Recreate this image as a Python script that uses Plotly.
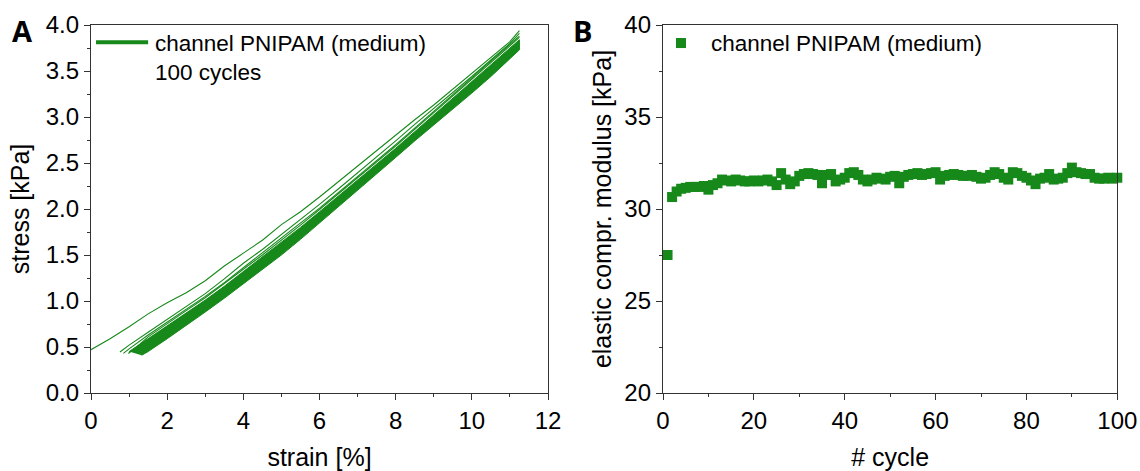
import plotly.graph_objects as go

GREEN = "#16891a"
AXC = "#333333"
TICKF = dict(family="Liberation Sans, Arial, sans-serif", size=24, color="black")
TITLEF = dict(family="Liberation Sans, Arial, sans-serif", size=25, color="black")
LEGF = dict(family="Liberation Sans, Arial, sans-serif", size=22.5, color="black")

# ---------------- Panel A data (stress-strain, 100 cycles) ----------------
cycle1_strain = [0, 0.5, 1.0, 1.5, 2.0, 2.5, 3.0, 3.3, 3.5, 4.0, 4.5, 5.0, 5.5, 6.0, 6.5, 7.0,
                 7.5, 8.0, 8.5, 9.0, 9.5, 10.0, 10.5, 11.0, 11.25]
cycle1_stress = [0.47, 0.59, 0.72, 0.86, 0.98, 1.09, 1.22, 1.32, 1.38, 1.52, 1.66, 1.83, 1.97, 2.13,
                 2.30, 2.47, 2.63, 2.80, 2.97, 3.13, 3.30, 3.47, 3.64, 3.82, 3.94]

cycle2_strain = [0.76, 1.0, 1.5, 2.0, 2.5, 3.0, 3.5, 4.0, 4.5, 5.0, 5.5, 6.0, 6.5, 7.0, 7.5,
                 8.0, 8.5, 9.0, 9.5, 10.0, 10.5, 11.0, 11.25]
cycle2_stress = [0.445, 0.52, 0.66, 0.80, 0.94, 1.08, 1.24, 1.41, 1.56, 1.72, 1.88, 2.05, 2.22,
                 2.39, 2.56, 2.74, 2.92, 3.09, 3.27, 3.44, 3.62, 3.80, 3.91]

cycle3_strain = [0.85, 1.0, 1.5, 2.0, 2.5, 3.0, 3.5, 4.0, 4.5, 5.0, 5.5, 6.0, 6.5, 7.0, 7.5,
                 8.0, 8.5, 9.0, 9.5, 10.0, 10.5, 11.0, 11.25]
cycle3_stress = [0.43, 0.48, 0.63, 0.77, 0.91, 1.05, 1.20, 1.36, 1.52, 1.68, 1.84, 2.01, 2.18,
                 2.35, 2.52, 2.70, 2.88, 3.06, 3.24, 3.42, 3.60, 3.78, 3.88]

cycle4_strain = [0.98, 1.2, 1.5, 2.0, 2.5, 3.0, 3.5, 4.0, 4.5, 5.0, 5.5, 6.0, 6.5, 7.0, 7.5,
                 8.0, 8.5, 9.0, 9.5, 10.0, 10.5, 11.0, 11.25]
cycle4_stress = [0.43, 0.50, 0.61, 0.755, 0.895, 1.035, 1.185, 1.345, 1.50, 1.66, 1.825, 1.995,
                 2.165, 2.335, 2.505, 2.685, 2.865, 3.045, 3.225, 3.405, 3.585, 3.765, 3.865]

# dense band of the remaining cycles: upper and lower envelopes
band_upper_strain = [1.0, 1.5, 2.0, 2.5, 3.0, 3.5, 4.0, 4.5, 5.0, 5.5, 6.0, 6.5, 7.0, 7.5,
                     8.0, 8.5, 9.0, 9.5, 10.0, 10.5, 11.0, 11.25]
band_upper_stress = [0.45, 0.59, 0.73, 0.87, 1.01, 1.16, 1.32, 1.47, 1.63, 1.80, 1.97, 2.14,
                     2.31, 2.48, 2.66, 2.84, 3.02, 3.20, 3.38, 3.56, 3.74, 3.84]
band_lower_strain = [1.33, 1.5, 2.0, 2.5, 3.0, 3.5, 4.0, 4.5, 5.0, 5.5, 6.0, 6.5, 7.0, 7.5,
                     8.0, 8.5, 9.0, 9.5, 10.0, 10.5, 11.0, 11.25]
band_lower_stress = [0.41, 0.45, 0.59, 0.73, 0.88, 1.03, 1.18, 1.34, 1.50, 1.67, 1.85, 2.02,
                     2.20, 2.38, 2.56, 2.74, 2.92, 3.09, 3.26, 3.44, 3.63, 3.73]

# ---------------- Panel B data (modulus per cycle) ----------------
cycles = list(range(1, 101))
modulus = [27.5, 30.65, 30.95, 31.1, 31.15, 31.2, 31.2, 31.2, 31.25, 31.05,
           31.3, 31.4, 31.6, 31.55, 31.5, 31.6, 31.55, 31.5, 31.5, 31.55,
           31.5, 31.55, 31.6, 31.5, 31.3, 31.95, 31.6, 31.35, 31.5, 31.8,
           31.9, 31.95, 31.9, 31.85, 31.4, 31.85, 31.9, 31.5, 31.6, 31.7,
           31.95, 32.0, 31.85, 31.6, 31.5, 31.6, 31.7, 31.65, 31.6, 31.75,
           31.8, 31.4, 31.75, 31.85, 31.9, 31.95, 31.85, 31.9, 31.95, 32.0,
           31.6, 31.8, 31.85, 31.9, 31.85, 31.8, 31.8, 31.85, 31.75, 31.65,
           31.7, 31.85, 32.0, 31.9, 31.7, 31.6, 32.0, 31.95, 31.8, 31.7,
           31.55, 31.35, 31.65, 31.7, 31.9, 31.6, 31.65, 31.7, 31.95, 32.25,
           32.0, 31.95, 31.9, 31.9, 31.7, 31.65, 31.65, 31.7, 31.65, 31.7]

legend_label = "channel PNIPAM (medium)"

fig = go.Figure()

# band polygon
fig.add_trace(go.Scatter(
    x=band_upper_strain + band_lower_strain[::-1],
    y=band_upper_stress + band_lower_stress[::-1],
    fill="toself", fillcolor=GREEN, mode="lines",
    line=dict(color=GREEN, width=1), xaxis="x", yaxis="y", showlegend=False,
    hoverinfo="skip"))
for sx, sy in [(cycle4_strain, cycle4_stress), (cycle3_strain, cycle3_stress),
               (cycle2_strain, cycle2_stress), (cycle1_strain, cycle1_stress)]:
    fig.add_trace(go.Scatter(x=sx, y=sy, mode="lines", line=dict(color=GREEN, width=1.1),
                             xaxis="x", yaxis="y", showlegend=False))

fig.add_trace(go.Scatter(x=cycles, y=modulus, mode="markers",
                         marker=dict(symbol="square", size=10, color=GREEN, line=dict(width=0)),
                         xaxis="x2", yaxis="y2", showlegend=False, cliponaxis=False))

W, H = 1140, 471
axis_common = dict(showline=True, linecolor=AXC, linewidth=1.3, mirror=True,
                   ticks="outside", ticklen=6, tickwidth=1.3, tickcolor=AXC,
                   showgrid=False, zeroline=False, tickfont=TICKF, automargin=False,
                   minor=dict(ticks="outside", ticklen=3, tickwidth=1.3, tickcolor=AXC, showgrid=False))

fig.update_layout(
    width=W, height=H, margin=dict(l=0, r=0, t=25, b=78),
    plot_bgcolor="white", paper_bgcolor="white", showlegend=False,
    xaxis=dict(axis_common, domain=[91 / W, 548 / W], range=[0, 12], dtick=2,
               minor=dict(axis_common["minor"], dtick=1),
               title=dict(text="strain [%]", font=TITLEF, standoff=18), anchor="y"),
    yaxis=dict(axis_common, domain=[0, 1], range=[0, 4], dtick=0.5, tickformat=".1f",
               minor=dict(axis_common["minor"], dtick=0.25),
               title=dict(text="stress [kPa]", font=TITLEF, standoff=8), anchor="x"),
    xaxis2=dict(axis_common, domain=[663 / W, 1117.3 / W], range=[0, 100], dtick=20,
                minor=dict(axis_common["minor"], dtick=10),
                title=dict(text="# cycle", font=TITLEF, standoff=18), anchor="y2"),
    yaxis2=dict(axis_common, domain=[0, 1], range=[20, 40], dtick=5,
                minor=dict(axis_common["minor"], dtick=2.5),
                title=dict(text="elastic compr. modulus [kPa]", font=TITLEF, standoff=5), anchor="x2"),
)

# legends (drawn manually)
fig.add_shape(type="line", xref="x domain", yref="y domain", x0=0.011, x1=0.125, y0=0.953, y1=0.953,
              line=dict(color=GREEN, width=4))
fig.add_annotation(xref="x domain", yref="y domain", x=0.136, y=0.950, text=legend_label,
                   showarrow=False, xanchor="left", yanchor="middle", font=LEGF)
fig.add_annotation(xref="x domain", yref="y domain", x=0.136, y=0.870, text="100 cycles",
                   showarrow=False, xanchor="left", yanchor="middle", font=LEGF)
fig.add_shape(type="rect", xref="x2 domain", yref="y2 domain", x0=0.0286, x1=0.0506, y0=0.9374, y1=0.9646,
              line=dict(width=0), fillcolor=GREEN)
fig.add_annotation(xref="x2 domain", yref="y2 domain", x=0.101, y=0.950, text=legend_label,
                   showarrow=False, xanchor="left", yanchor="middle", font=LEGF)

# panel letters
PF = dict(family="Open Sans, Liberation Sans, sans-serif", size=29, color="black", weight="bold")
fig.add_annotation(xref="paper", yref="paper", x=22 / W, y=(393 - 30) / 368, text="<b>A</b>",
                   showarrow=False, xanchor="center", yanchor="middle", font=PF)
fig.add_annotation(xref="paper", yref="paper", x=582 / W, y=(393 - 30) / 368, text="<b>B</b>",
                   showarrow=False, xanchor="center", yanchor="middle", font=PF)

fig.write_html("out.html")
